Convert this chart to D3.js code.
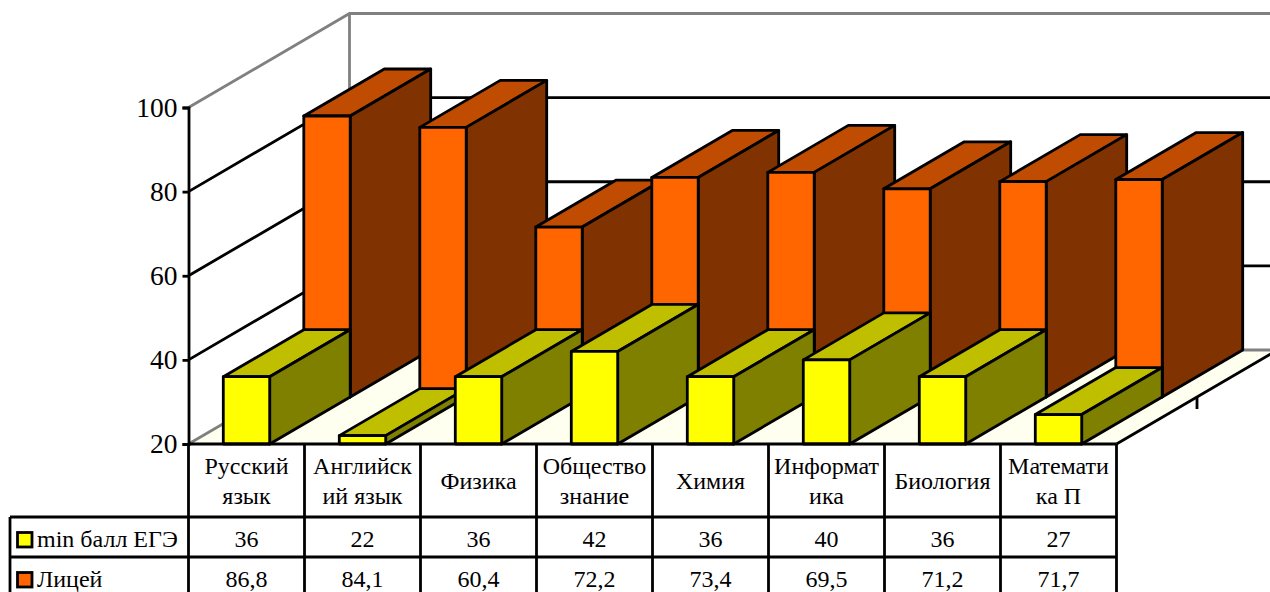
<!DOCTYPE html>
<html>
<head>
<meta charset="utf-8">
<script src="https://cdn.jsdelivr.net/npm/d3@7"></script>
<style>
    html, body { margin: 0; padding: 0; background: #fff; overflow: hidden; }
    svg { display: block; }
    text { font-family: "Liberation Serif", serif; fill: #000; }
</style>
</head>
<body>
<svg id="chart" width="1270" height="592"></svg>
<script>
const categories = ["Русский язык", "Английский язык", "Физика", "Обществознание", "Химия", "Информатика", "Биология", "Математика П"];
const categoryLines = [["Русский", "язык"], ["Английск", "ий язык"], ["Физика"], ["Общество", "знание"], ["Химия"], ["Информат", "ика"], ["Биология"], ["Математи", "ка П"]];
const minScore = [36, 22, 36, 42, 36, 40, 36, 27];
const lyceum = [86.8, 84.1, 60.4, 72.2, 73.4, 69.5, 71.2, 71.7];
const yTicks = [20, 40, 60, 80, 100];
const seriesNames = ["min балл ЕГЭ", "Лицей"];

const front = "#000";
const wallGrey = "#808080";
const yellow = { front: "#ffff00", top: "#bfbf00", side: "#808000" };
const orange = { front: "#ff6600", top: "#bf4c00", side: "#803300" };

const svg = d3.select("#chart");

// Settings
const plotLeft = 188.5;
const plotRight = 1116.5;
const plotBase = 444;
const plotTop = 107.5;
const labelLeft = 10;
const rowY = [444, 517, 557, 597];
const lineWidth = 2.8;

const x = d3.scaleBand().domain(categories).range([plotLeft, plotRight]).paddingInner(0.6).paddingOuter(0.3);
const y = d3.scaleLinear().domain([20, 100]).range([plotBase, plotTop]);
// one unit of depth is one series row
const depthX = d3.scaleLinear().domain([0, 2]).range([0, 161]);
const depthY = d3.scaleLinear().domain([0, 2]).range([0, -94]);

const project = (px, value, depth) => [px + depthX(depth), y(value) + depthY(depth)];
const pathOf = pts => "M" + pts.map(p => p.join(",")).join("L") + "Z";

// floor and walls
const backBase = project(plotLeft, 20, 2);
const backTop = project(plotLeft, 100, 2);
const floorRight = project(plotRight, 20, 2);

svg.append("path")
    .attr("d", pathOf([[plotLeft, y(20)], backBase, floorRight, [plotRight, y(20)]]))
    .attr("fill", "#fffff0");

const grid = svg.append("g").attr("fill", "none").attr("stroke-width", lineWidth);
yTicks.forEach(t => {
    const isEdge = t === 20 || t === 100;
    grid.append("path")
        .attr("d", d3.line()([[plotLeft, y(t)], project(plotLeft, t, 2), project(plotRight, t, 2)]))
        .attr("stroke", isEdge ? wallGrey : front);
});
grid.append("path")
    .attr("d", d3.line()([backBase, backTop]))
    .attr("stroke", wallGrey);

// depth axis along the right side of the floor
grid.append("path")
    .attr("d", d3.line()([[plotRight, y(20)], floorRight]))
    .attr("stroke", front);
const depthTick = project(plotRight, 20, 1);
grid.append("path")
    .attr("d", d3.line()([depthTick, [depthTick[0], depthTick[1] + 12]]))
    .attr("stroke", front);

// bars: back row first so the front row covers it
function drawBars(values, depth, colors) {
    const g = svg.append("g").attr("stroke", front).attr("stroke-width", lineWidth).attr("stroke-linejoin", "round");
    const bars = g.selectAll("g").data(values).join("g");
    const left = (d, i) => x(categories[i]);
    const right = (d, i) => x(categories[i]) + x.bandwidth();

    bars.append("path")
        .attr("fill", colors.top)
        .attr("d", (d, i) => pathOf([
            project(left(d, i), d, depth), project(right(d, i), d, depth),
            project(right(d, i), d, depth + 1), project(left(d, i), d, depth + 1)
        ]));
    bars.append("path")
        .attr("fill", colors.side)
        .attr("d", (d, i) => pathOf([
            project(right(d, i), 20, depth), project(right(d, i), d, depth),
            project(right(d, i), d, depth + 1), project(right(d, i), 20, depth + 1)
        ]));
    bars.append("path")
        .attr("fill", colors.front)
        .attr("d", (d, i) => pathOf([
            project(left(d, i), 20, depth), project(left(d, i), d, depth),
            project(right(d, i), d, depth), project(right(d, i), 20, depth)
        ]));
}
drawBars(lyceum, 1, orange);
drawBars(minScore, 0, yellow);

// value axis
const yAxis = svg.append("g")
    .attr("transform", "translate(" + plotLeft + ",0)")
    .call(d3.axisLeft(y).tickValues(yTicks).tickSize(6).tickPadding(5));
yAxis.selectAll("path, line").attr("stroke", front).attr("stroke-width", lineWidth);
yAxis.selectAll("text").attr("font-size", 27.5).attr("font-family", "Liberation Serif").attr("fill", "#000");

// data table
const table = svg.append("g").attr("stroke", front).attr("stroke-width", lineWidth);
const tableLine = (x1, y1, x2, y2) => table.append("line").attr("x1", x1).attr("y1", y1).attr("x2", x2).attr("y2", y2);

tableLine(plotLeft, rowY[0], plotRight, rowY[0]);
tableLine(labelLeft, rowY[1], plotRight, rowY[1]);
tableLine(labelLeft, rowY[2], plotRight, rowY[2]);
tableLine(labelLeft, rowY[3], plotRight, rowY[3]);
tableLine(labelLeft, rowY[1], labelLeft, rowY[3]);
categories.forEach((c, i) => tableLine(x(c) - x.step() * 0.3, rowY[0], x(c) - x.step() * 0.3, rowY[3]));
tableLine(plotRight, rowY[0], plotRight, rowY[3]);

const cellX = c => x(c) + x.bandwidth() / 2;
const fontSize = 24;

categories.forEach((c, i) => {
    const lines = categoryLines[i];
    const mid = (rowY[0] + rowY[1]) / 2;
    svg.append("text")
        .attr("text-anchor", "middle")
        .attr("font-size", fontSize)
        .selectAll("tspan").data(lines).join("tspan")
        .attr("x", cellX(c))
        .attr("y", (d, k) => mid + 8 + (k - (lines.length - 1) / 2) * 30)
        .text(d => d);
});

[minScore, lyceum].forEach((values, r) => {
    const baseline = (rowY[r + 1] + rowY[r + 2]) / 2 + 10;
    svg.append("g").selectAll("text").data(values).join("text")
        .attr("x", (d, i) => cellX(categories[i]))
        .attr("y", baseline)
        .attr("text-anchor", "middle")
        .attr("font-size", fontSize)
        .text(d => String(d).replace(".", ","));

    svg.append("rect")
        .attr("x", 17.5).attr("y", baseline - 14.5)
        .attr("width", 14.5).attr("height", 14.5)
        .attr("fill", r === 0 ? yellow.front : orange.front)
        .attr("stroke", front).attr("stroke-width", lineWidth);
    svg.append("text")
        .attr("x", 37).attr("y", baseline)
        .attr("font-size", fontSize)
        .text(seriesNames[r]);
});
</script>
</body>
</html>
